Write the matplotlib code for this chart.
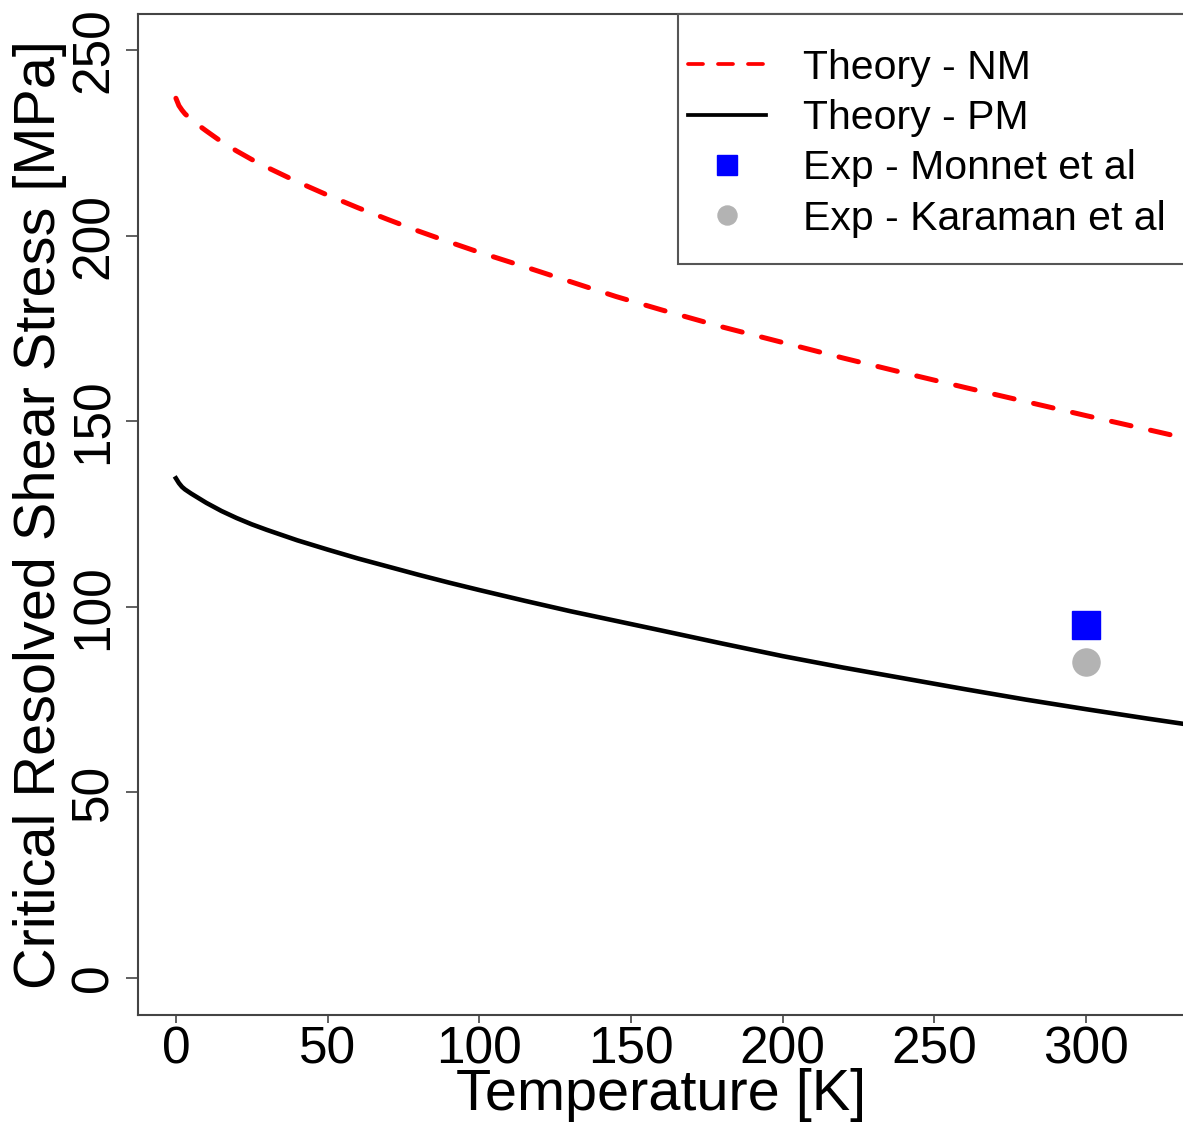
import matplotlib
matplotlib.use('Agg')
import matplotlib.pyplot as plt
from matplotlib.lines import Line2D
from matplotlib.patches import Rectangle

plt.rcParams['font.family'] = ['Liberation Sans', 'DejaVu Sans']

# ── Data ──────────────────────────────────────────────────────────────────────
temps = [0, 1, 2, 3, 5, 7, 10, 15, 20, 25, 30, 40, 50, 60, 70, 80, 90, 100,
         115, 130, 145, 160, 180, 200, 220, 240, 260, 280, 300, 320, 335]
crss_nm = [237.0, 235.0, 233.8, 232.8, 231.3, 230.0, 228.2, 225.3, 222.8,
           220.5, 218.4, 214.5, 210.9, 207.5, 204.3, 201.2, 198.3, 195.5,
           191.6, 187.6, 183.6, 180.0, 175.4, 171.2, 167.0, 163.0, 159.1,
           155.3, 151.5, 147.8, 145.0]
crss_pm = [134.6, 133.3, 132.3, 131.6, 130.5, 129.5, 128.0, 125.8, 123.9,
           122.2, 120.7, 117.9, 115.4, 113.0, 110.8, 108.6, 106.5, 104.5,
           101.6, 98.8, 96.2, 93.6, 90.1, 86.7, 83.6, 80.7, 77.8, 75.0,
           72.4, 69.9, 68.1]
exp_T = [300]
exp_monnet = [95]
exp_karaman = [85]

x_ticks = [0, 50, 100, 150, 200, 250, 300]
y_ticks = [0, 50, 100, 150, 200, 250]

# ── Figure ────────────────────────────────────────────────────────────────────
W, H = 1183, 1126
fig = plt.figure(figsize=(W / 100, H / 100), dpi=100)
ax_l, ax_r, ax_t, ax_b = 138, 1190, 14, 1015
ax = fig.add_axes([ax_l / W, 1 - ax_b / H, (ax_r - ax_l) / W, (ax_b - ax_t) / H])

ax.plot(temps, crss_nm, color='#FF0000', lw=3.6, ls=(0, (4, 4)),
        dash_capstyle='round', dash_joinstyle='round')
ax.plot(temps, crss_pm, color='black', lw=3.3, solid_joinstyle='round')
ax.plot(exp_T, exp_monnet, ls='none', marker='s', ms=19.8, color='#0000FF')
ax.plot(exp_T, exp_karaman, ls='none', marker='o', ms=19.5, color='#B3B3B3')

ax.set_xlim(-12.5, 334.3)
ax.set_ylim(-10, 259.7)
ax.set_xticks(x_ticks)
ax.set_yticks(y_ticks)
ax.set_xticklabels([str(v) for v in x_ticks])
ax.set_yticklabels([str(v) for v in y_ticks], rotation=90, va='center')
ax.tick_params(axis='x', length=6, width=1.2, color='#444444', pad=1.5, labelsize=37)
ax.tick_params(axis='y', length=9, width=1.2, color='#444444', pad=5, labelsize=37)
for s in ax.spines.values():
    s.set_color('#444444')
    s.set_linewidth(1.5)

ax.set_xlabel('Temperature [K]', fontsize=41.5, va='top')
ax.xaxis.set_label_coords(0.497, -0.053)
ax.set_ylabel('Critical Resolved Shear Stress [MPa]', fontsize=41.5)
ax.yaxis.set_label_coords(-0.0675, 0.5)

# ── Legend (frame drawn by hand, it runs off the right edge) ──────────────────
ax.add_patch(Rectangle((0.5133, 0.7502), 0.6, 0.2498, transform=ax.transAxes,
                       facecolor='white', edgecolor='#555555', lw=1.5,
                       clip_on=False, zorder=3))
handles = [
    Line2D([], [], color='#FF0000', lw=2.7, ls=(0, (4, 4)), dash_capstyle='round'),
    Line2D([], [], color='black', lw=2.7),
    Line2D([], [], ls='none', marker='s', ms=13.7, color='#0000FF'),
    Line2D([], [], ls='none', marker='o', ms=13.7, color='#B3B3B3'),
]
labels = ['Theory - NM', 'Theory - PM', 'Exp - Monnet et al', 'Exp - Karaman et al']
leg = ax.legend(handles, labels, loc='upper left', bbox_to_anchor=(0.5228, 0.9654),
                frameon=False, fontsize=29.5, handlelength=1.9, handletextpad=0.9,
                borderpad=0, borderaxespad=0, labelspacing=0.3)
leg.set_zorder(4)

fig.savefig('out.png', dpi=100)
